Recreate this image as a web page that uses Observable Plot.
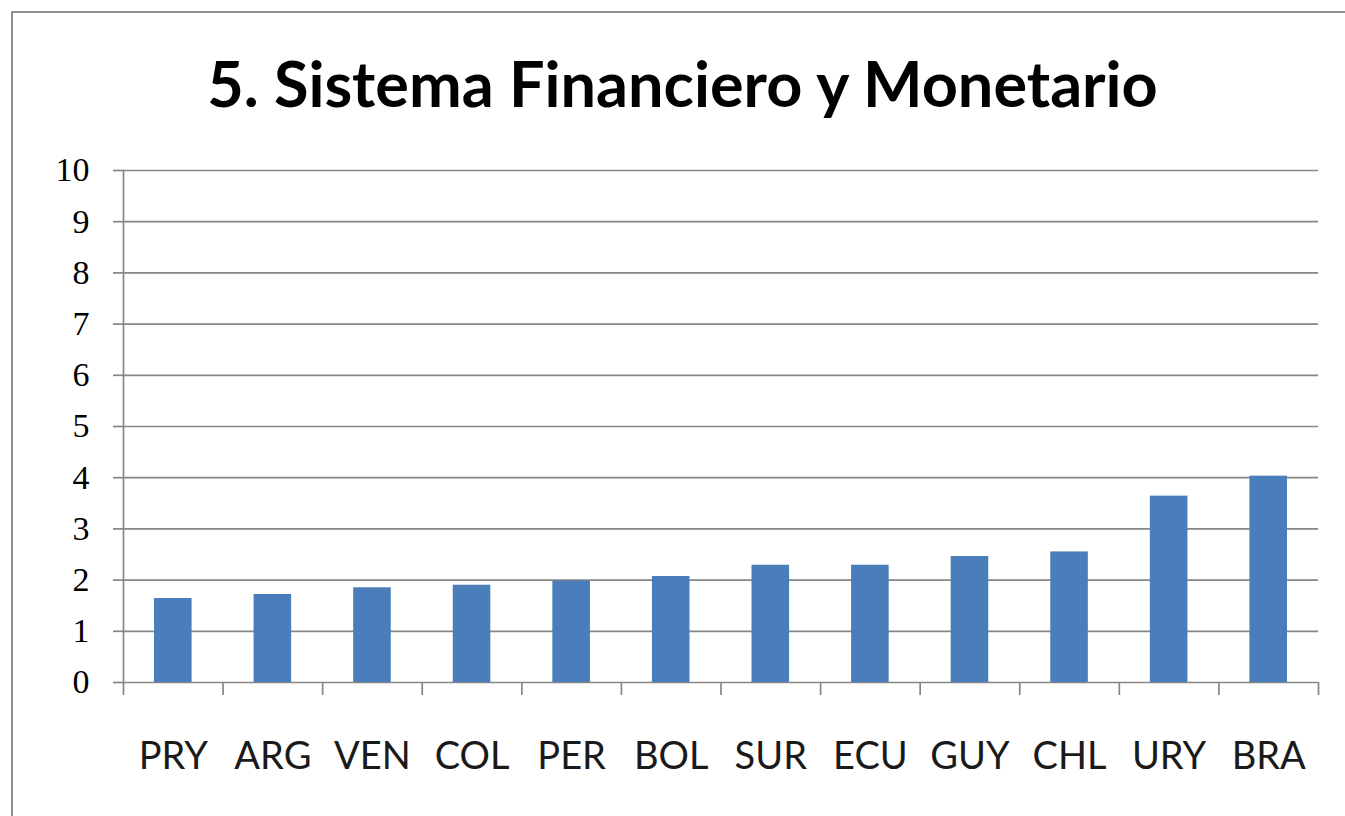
<!DOCTYPE html>
<html>
<head>
<meta charset="utf-8">
<script src="https://cdn.jsdelivr.net/npm/d3@7"></script>
<script src="https://cdn.jsdelivr.net/npm/@observablehq/plot@0.6"></script>
<style>
  html, body { margin: 0; padding: 0; background: #fff; overflow: hidden; width: 1345px; height: 816px; }
  #frame { position: absolute; left: 11px; top: 11px; width: 1400px; height: 900px; border: 2px solid #8e8e8e; box-sizing: border-box; }
  #title { position: absolute; left: 20px; top: 45px; width: 1325px; text-align: center;
           font-family: Lato, "Open Sans", sans-serif; font-weight: bold; font-size: 63px; line-height: normal; color: #000; white-space: nowrap; }
  #chart { position: absolute; left: 0; top: 150px; }
</style>
</head>
<body>
<div id="frame"></div>
<div id="title">5. Sistema Financiero y Monetario</div>
<div id="chart"></div>
<script>
const titleText = "5. Sistema Financiero y Monetario";
const countries = ["PRY", "ARG", "VEN", "COL", "PER", "BOL", "SUR", "ECU", "GUY", "CHL", "URY", "BRA"];
const values = [1.64, 1.72, 1.85, 1.90, 1.98, 2.07, 2.29, 2.29, 2.46, 2.55, 3.64, 4.03];
const yTicks = [0, 1, 2, 3, 4, 5, 6, 7, 8, 9, 10];

const data = countries.map((c, i) => ({country: c, value: values[i]}));

const W = 1345, H = 666;
const mL = 123, mR = 27, mT = 20, mB = 134;
const step = (W - mL - mR) / countries.length;
const gridColor = "#868686";

const chart = Plot.plot({
  width: W,
  height: H,
  marginLeft: mL,
  marginRight: mR,
  marginTop: mT,
  marginBottom: mB,
  style: {background: "transparent"},
  x: {domain: countries, padding: 0, round: false},
  y: {domain: [0, 10]},
  marks: [
    Plot.gridY({ticks: yTicks, stroke: gridColor, strokeOpacity: 1, strokeWidth: 1.7}),
    Plot.barY(data, {x: "country", y: "value", fill: "#4a7ebb", insetLeft: 31, insetRight: 31}),
    Plot.frame({anchor: "left", stroke: gridColor, strokeWidth: 1.7}),
    Plot.axisY({ticks: yTicks, tickSize: 10, tickPadding: 24, stroke: gridColor, strokeWidth: 1.7,
                fill: "#000", fontSize: 34, fontFamily: "Liberation Serif, serif", label: null}),
    Plot.axisX({ticks: countries, tickSize: 13, tickFormat: () => "", dx: -step / 2,
                stroke: gridColor, strokeWidth: 1.7, label: null}),
    Plot.axisX({ticks: [countries[countries.length - 1]], tickSize: 13, tickFormat: () => "", dx: step / 2,
                stroke: gridColor, strokeWidth: 1.7, label: null}),
    Plot.axisX({ticks: countries, tickSize: 0, tickPadding: 60, fill: "#1a1a1a",
                fontSize: 38, fontFamily: "Lato, Open Sans, sans-serif", label: null})
  ]
});
document.getElementById("chart").appendChild(chart);
</script>
</body>
</html>
